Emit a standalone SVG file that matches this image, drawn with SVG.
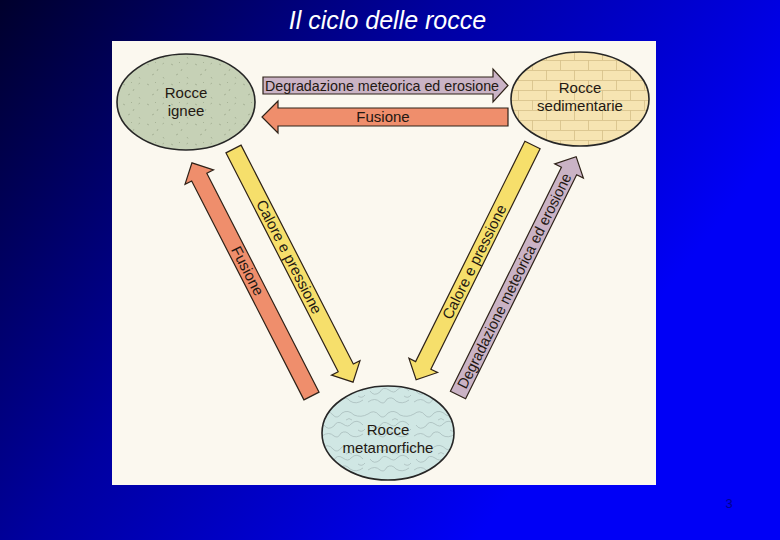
<svg xmlns="http://www.w3.org/2000/svg" width="780" height="540" viewBox="0 0 780 540">
  <defs>
    <linearGradient id="bg" gradientUnits="userSpaceOnUse" x1="0" y1="0" x2="560" y2="430">
      <stop offset="0" stop-color="#00002c"/>
      <stop offset="0.5" stop-color="#0000a0"/>
      <stop offset="1" stop-color="#0000f6"/>
    </linearGradient>
    <pattern id="bricks" patternUnits="userSpaceOnUse" width="28" height="20">
      <path d="M0,0.5 H28 M0,10.5 H28 M0.5,0 V10 M14.5,10 V20" stroke="#d6c089" stroke-width="0.8" fill="none"/>
    </pattern>
    <pattern id="speckle" patternUnits="userSpaceOnUse" width="24" height="20">
      <path d="M3,4 l2,1 M14,9 l-1,2 M8,15 l2,-1 M19,17 l1,1.5 M20,3 l-1.5,1 M11,2 l1,1" stroke="#9ea98e" stroke-width="0.8" fill="none"/>
    </pattern>
    <pattern id="waves" patternUnits="userSpaceOnUse" width="46" height="34">
      <path d="M0,6 q6,-5 11,1 q4,5 9,-2 q6,-4 12,2 q7,3 14,-1 M2,17 q4,6 10,1 q3,-6 9,-2 q5,4 8,0 q6,-6 12,1 M0,28 q7,-5 12,0 q4,3 7,-3 q5,-3 9,2 q6,4 13,-1 M24,12 q3,-3 6,0 M36,22 q4,3 7,-1" stroke="#a3b8b7" stroke-width="0.7" fill="none"/>
    </pattern>
    <style>
      .lbl { font-family: "Liberation Sans", Arial, sans-serif; font-size: 15px; fill: #231812; text-anchor: middle; }
      .arr { stroke: #2e2218; stroke-width: 1.2; stroke-linejoin: miter; }
      .yellow { fill: #f6df6b; }
      .salmon { fill: #ef8e6c; }
      .purple { fill: #cab3c5; }
      .outline { fill: none; stroke: #262626; stroke-width: 1.6; }
    </style>
  </defs>

  <rect x="0" y="0" width="780" height="540" fill="url(#bg)"/>
  <text x="387.5" y="29" font-family="Liberation Sans, Arial, sans-serif" font-size="25" font-style="italic" fill="#ffffff" text-anchor="middle">Il ciclo delle rocce</text>

  <rect x="112" y="41" width="544" height="444" fill="#fbf8ef"/>

  <g id="node-ignee">
    <ellipse cx="186" cy="102" rx="69" ry="48" fill="#c6d1b6"/>
    <ellipse cx="186" cy="102" rx="69" ry="48" fill="url(#speckle)"/>
    <ellipse class="outline" cx="186" cy="102" rx="69" ry="48"/>
    <text class="lbl" x="186" y="98">Rocce</text>
    <text class="lbl" x="186" y="116">ignee</text>
  </g>

  <g id="node-sedimentarie">
    <ellipse cx="580" cy="99" rx="69" ry="47" fill="#f6e4b2"/>
    <ellipse cx="580" cy="99" rx="69" ry="47" fill="url(#bricks)"/>
    <ellipse class="outline" cx="580" cy="99" rx="69" ry="47"/>
    <text class="lbl" x="580" y="93">Rocce</text>
    <text class="lbl" x="580" y="111">sedimentarie</text>
  </g>

  <g id="node-metamorfiche">
    <ellipse cx="388" cy="433" rx="66" ry="47" fill="#d0e7e4"/>
    <ellipse cx="388" cy="433" rx="66" ry="47" fill="url(#waves)"/>
    <ellipse class="outline" cx="388" cy="433" rx="66" ry="47"/>
    <text class="lbl" x="388" y="435">Rocce</text>
    <text class="lbl" x="388" y="453">metamorfiche</text>
  </g>

  <g id="connectors">
    <path class="arr purple" d="M263,77 L493,77 L493,69 L508,85.5 L493,102 L493,94 L263,94 Z"/>
    <text class="lbl" x="382" y="90.5" font-size="14.5" textLength="234" lengthAdjust="spacingAndGlyphs">Degradazione meteorica ed erosione</text>

    <path class="arr salmon" d="M508,108 L278,108 L278,101 L262,117 L278,133 L278,126 L508,126 Z"/>
    <text class="lbl" x="383" y="122">Fusione</text>

    <path class="arr yellow" transform="translate(233.5,149) rotate(62.85)" d="M0,-8.5 L246,-8.5 L246,-16 L262,0 L246,16 L246,8.5 L0,8.5 Z"/>
    <text class="lbl" transform="translate(289,257) rotate(62.85)" y="5">Calore e pressione</text>

    <path class="arr salmon" transform="translate(311.5,396) rotate(-117.15)" d="M0,-8.5 L246,-8.5 L246,-16 L262,0 L246,16 L246,8.5 L0,8.5 Z"/>
    <text class="lbl" transform="translate(247.5,271) rotate(62.85)" y="5">Fusione</text>

    <path class="arr yellow" transform="translate(532.5,145) rotate(116.37)" d="M0,-8.5 L246,-8.5 L246,-16 L262,0 L246,16 L246,8.5 L0,8.5 Z"/>
    <text class="lbl" transform="translate(474.5,262) rotate(-63.63)" y="5">Calore e pressione</text>

    <path class="arr purple" transform="translate(458,395) rotate(-63.63)" d="M0,-8.5 L250,-8.5 L250,-16 L266,0 L250,16 L250,8.5 L0,8.5 Z"/>
    <text class="lbl" transform="translate(514.5,281) rotate(-63.63)" y="5" font-size="14.5" textLength="238" lengthAdjust="spacingAndGlyphs">Degradazione meteorica ed erosione</text>
  </g>

  <text x="729" y="508" font-family="Liberation Sans, Arial, sans-serif" font-size="13" fill="#000090" text-anchor="middle">3</text>
</svg>
